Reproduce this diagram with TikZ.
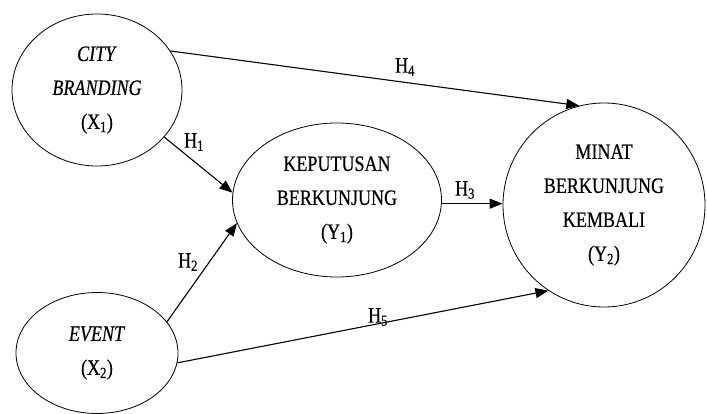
\documentclass[tikz,border=0pt]{standalone}
\usepackage{fontspec}
\setmainfont{Liberation Serif}[FakeStretch=0.82,FakeBold=0.5]
\usetikzlibrary{shapes.geometric,arrows.meta}
\begin{document}
\begin{tikzpicture}[x=1pt,y=-1pt,
  var/.style={ellipse, draw, line width=0.8pt, inner sep=0pt, align=center,
              font=\fontsize{22}{34}\selectfont},
  link/.style={line width=1.1pt, -{Triangle[length=13pt,width=10pt]}},
  hyp/.style={font=\fontsize{22}{25}\selectfont, inner sep=0pt}]
\useasboundingbox (0,0) rectangle (707,414);

% latent variables
\node[var, minimum width=170pt, minimum height=152pt] (x1) at (97,90)
  {\textit{CITY}\\\textit{BRANDING}\\(X\textsubscript{1})};
\node[var, minimum width=162pt, minimum height=121pt] (x2) at (97,353)
  {\textit{EVENT}\\(X\textsubscript{2})};
\node[var, minimum width=209pt, minimum height=154pt] (y1) at (337,200)
  {KEPUTUSAN\\BERKUNJUNG\\(Y\textsubscript{1})};
\node[var, minimum width=202pt, minimum height=204pt] (y2) at (604,205)
  {MINAT\\BERKUNJUNG\\KEMBALI\\(Y\textsubscript{2})};

% hypothesised paths
\draw[link] (x1.-35) -- (y1.176);
\draw[link] (x2.24) -- (y1.193);
\draw[link] (y1.-2) -- (y1.-2 -| y2.west);
\draw[link] (x1.28) -- (y2.104);
\draw[link] (x2.-7) -- (y2.237);

% path labels
\node[hyp] (h1) at (194,142) {H\textsubscript{1}};
\node[hyp] (h2) at (188,262) {H\textsubscript{2}};
\node[hyp] (h3) at (465,190) {H\textsubscript{3}};
\node[hyp] (h4) at (405,67) {H\textsubscript{4}};
\node[hyp] (h5) at (378,317) {H\textsubscript{5}};
\end{tikzpicture}
\end{document}
